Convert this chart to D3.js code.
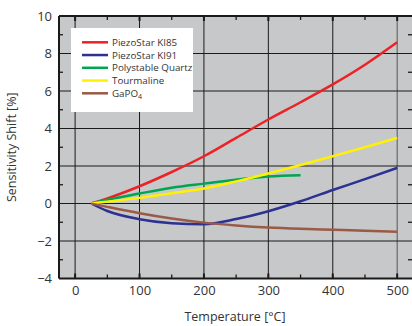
<!DOCTYPE html>
<html>
<head>
<meta charset="utf-8">
<script src="https://cdn.jsdelivr.net/npm/d3@7"></script>
<style>
  body { margin: 0; background: #fff; }
  svg text { font-family: "Open Sans", "DejaVu Sans", sans-serif; fill: #333; }
</style>
</head>
<body>
<div id="chart"></div>
<script>
// temperatures [°C] and sensitivity shift [%]
const temps = [25, 50, 100, 150, 200, 250, 300, 350, 400, 450, 500];
const ki85 = [0, 0.27, 0.92, 1.68, 2.52, 3.5, 4.48, 5.4, 6.35, 7.4, 8.6];
const ki91 = [0, -0.4, -0.84, -1.05, -1.1, -0.83, -0.41, 0.12, 0.72, 1.3, 1.9];
const quartzTemps = [25, 50, 100, 150, 200, 250, 300, 350];
const quartz = [0, 0.2, 0.53, 0.84, 1.06, 1.27, 1.44, 1.51];
const tourmaline = [0, 0.1, 0.3, 0.55, 0.8, 1.18, 1.6, 2.05, 2.52, 3.0, 3.5];
const gapo4 = [0, -0.18, -0.52, -0.8, -1.02, -1.17, -1.28, -1.35, -1.4, -1.45, -1.51];
const xTicks = [0, 100, 200, 300, 400, 500];
const xMinor = [50, 150, 250, 350, 450];
const yTicks = [-4, -2, 0, 2, 4, 6, 8, 10];
const yMinor = [-3, -1, 1, 3, 5, 7, 9];

const series = [
  { name: 'PiezoStar KI85', t: temps, v: ki85, color: '#ec2227' },
  { name: 'PiezoStar KI91', t: temps, v: ki91, color: '#2c3192' },
  { name: 'Polystable Quartz', t: quartzTemps, v: quartz, color: '#00a54f' },
  { name: 'Tourmaline', t: temps, v: tourmaline, color: '#fff200' },
  { name: 'GaPO4', t: temps, v: gapo4, color: '#9a5a45' }
];

const width = 412, height = 326;
const pl = 59, pr = 412, pt = 16, pb = 278.5;

const svg = d3.select('#chart').append('svg')
  .attr('width', width).attr('height', height);

const x = d3.scaleLinear().domain([-25, 523]).range([pl, pr]);
const y = d3.scaleLinear().domain([-4, 10]).range([pb, pt]);

svg.append('rect')
  .attr('x', pl).attr('y', pt)
  .attr('width', pr - pl).attr('height', pb - pt)
  .attr('fill', '#c7c8ca');

// grid
svg.append('g').selectAll('line').data(xTicks).join('line')
  .attr('x1', d => x(d)).attr('x2', d => x(d))
  .attr('y1', pt).attr('y2', pb)
  .attr('stroke', d => d === 500 ? '#555' : '#1a1a1a').attr('stroke-width', 1);
svg.append('g').selectAll('line').data(yTicks.filter(d => d > -4 && d < 10)).join('line')
  .attr('x1', pl).attr('x2', pr)
  .attr('y1', d => y(d)).attr('y2', d => y(d))
  .attr('stroke', '#1a1a1a').attr('stroke-width', 1);

// inward minor ticks
const tk = svg.append('g').attr('stroke', '#1a1a1a').attr('stroke-width', 1.3);
xMinor.forEach(d => {
  tk.append('line').attr('x1', x(d)).attr('x2', x(d)).attr('y1', pt).attr('y2', pt + 4);
  tk.append('line').attr('x1', x(d)).attr('x2', x(d)).attr('y1', pb).attr('y2', pb - 4);
});
yMinor.forEach(d => {
  tk.append('line').attr('x1', pl).attr('x2', pl + 4).attr('y1', y(d)).attr('y2', y(d));
  tk.append('line').attr('x1', pr).attr('x2', pr - 4).attr('y1', y(d)).attr('y2', y(d));
});
xTicks.forEach(d => {
  tk.append('line').attr('x1', x(d)).attr('x2', x(d)).attr('y1', pt).attr('y2', pt + 5).attr('stroke-width', 2);
  tk.append('line').attr('x1', x(d)).attr('x2', x(d)).attr('y1', pb).attr('y2', pb - 5).attr('stroke-width', 2);
});

// frame
svg.append('line').attr('x1', pl).attr('x2', pr).attr('y1', pt).attr('y2', pt)
  .attr('stroke', '#1a1a1a').attr('stroke-width', 2);
svg.append('line').attr('x1', pl).attr('x2', pr).attr('y1', pb).attr('y2', pb)
  .attr('stroke', '#1a1a1a').attr('stroke-width', 2);
svg.append('line').attr('x1', pl).attr('x2', pl).attr('y1', pt).attr('y2', pb)
  .attr('stroke', '#1a1a1a').attr('stroke-width', 2);

// axes labels
const xAxis = svg.append('g').attr('transform', `translate(0,${pb})`)
  .call(d3.axisBottom(x).tickValues(xTicks).tickSize(0).tickPadding(7));
xAxis.select('.domain').remove();
xAxis.selectAll('text').attr('font-size', 13);

const yAxis = svg.append('g').attr('transform', `translate(${pl},0)`)
  .call(d3.axisLeft(y).tickValues(yTicks).tickSize(0).tickPadding(7));
yAxis.select('.domain').remove();
yAxis.selectAll('text').attr('font-size', 13);

svg.append('text')
  .attr('x', 235).attr('y', 321)
  .attr('text-anchor', 'middle').attr('font-size', 12.5)
  .text('Temperature [°C]');
svg.append('text')
  .attr('transform', `translate(16,${(pt + pb) / 2}) rotate(-90)`)
  .attr('text-anchor', 'middle').attr('font-size', 12.5)
  .text('Sensitivity Shift [%]');

// curves
const line = d3.line().x(d => x(d[0])).y(d => y(d[1])).curve(d3.curveMonotoneX);
const plot = svg.append('g');
series.forEach(s => {
  plot.append('path')
    .datum(s.t.map((t, i) => [t, s.v[i]]))
    .attr('d', line)
    .attr('fill', 'none')
    .attr('stroke', s.color)
    .attr('stroke-width', 2.5);
});

// legend
const lg = svg.append('g');
lg.append('rect').attr('x', 71).attr('y', 28).attr('width', 122).attr('height', 84).attr('fill', '#fff');
series.forEach((s, i) => {
  const yy = 42.3 + i * 12.75;
  lg.append('line').attr('x1', 82).attr('x2', 108).attr('y1', yy).attr('y2', yy)
    .attr('stroke', s.color).attr('stroke-width', 2.5);
  const t = lg.append('text').attr('x', 112).attr('y', yy + 3.6).attr('font-size', 9.8);
  if (s.name === 'GaPO4') {
    t.append('tspan').text('GaPO');
    t.append('tspan').attr('font-size', 7).attr('dy', 2.5).text('4');
  } else {
    t.text(s.name);
  }
});
</script>
</body>
</html>
